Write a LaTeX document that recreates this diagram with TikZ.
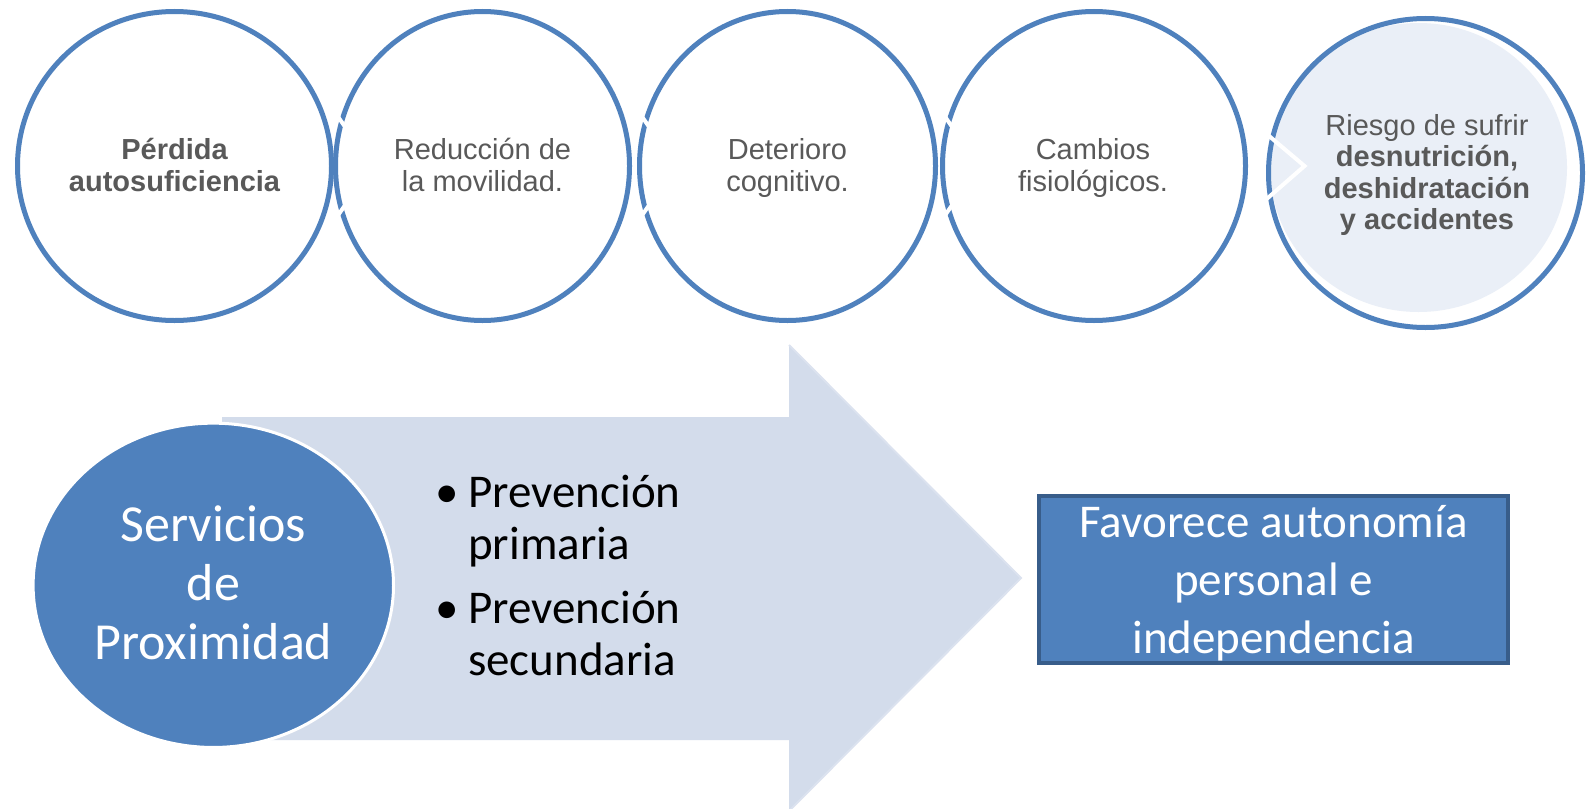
\documentclass[tikz,border=0pt]{standalone}
\usepackage{fontspec}
\setmainfont{Liberation Sans}
\newfontfamily\carlito{Carlito}
\usetikzlibrary{shapes.geometric}
\definecolor{ablue}{RGB}{79,129,189}
\definecolor{dblue}{RGB}{56,93,138}
\definecolor{tgray}{RGB}{89,89,89}
\definecolor{pale}{RGB}{234,239,247}
\definecolor{arrowfill}{RGB}{211,220,235}
\definecolor{arrowedge}{RGB}{219,226,239}
\tikzset{
  ring/.style={ellipse, draw=ablue, line width=5pt, inner sep=0pt, outer sep=0pt, minimum height=309pt},
  toptext/.style={anchor=base, inner sep=0pt, text=tgray, font=\fontsize{29}{31.5}\selectfont},
  chev/.style={draw=white, line width=4pt},
  whitetext/.style={inner sep=0pt, text=white},
}
\begin{document}
\begin{tikzpicture}[x=1pt,y=-1pt]
\useasboundingbox (0,0) rectangle (1589,808);
\fill[white] (0,0) rectangle (1589,808);

% top row of circles
\node[ring, minimum width=314pt] (c1) at (174.5,166) {};
\node[ring, minimum width=294pt] (c2) at (482.5,166) {};
\node[ring, minimum width=296pt] (c3) at (787.5,166) {};
\node[ring, minimum width=303pt] (c4) at (1094,166) {};
\node[ellipse, fill=pale, inner sep=0pt, minimum width=297pt, minimum height=289pt] (c5fill) at (1418.5,167.5) {};
\node[ring, minimum width=314pt] (c5) at (1425.5,173) {};

% white chevrons
\draw[chev] ([shift={(2,-50)}]c2.west) -- ([shift={(37,0)}]c2.west) -- ([shift={(2,50)}]c2.west);
\draw[chev] ([shift={(2,-50)}]c3.west) -- ([shift={(37,0)}]c3.west) -- ([shift={(2,50)}]c3.west);
\draw[chev] ([shift={(2,-50)}]c4.west) -- ([shift={(37,0)}]c4.west) -- ([shift={(2,50)}]c4.west);
\draw[chev] ([shift={(-3,-40)}]c5.west) -- ([shift={(36,-7)}]c5.west) -- ([shift={(-3,27)}]c5.west);

% texts of circles
\node[toptext] (t1) at (174.5,159.5) {\begin{tabular}[t]{@{}c@{}}\bfseries Pérdida\\\bfseries autosuficiencia\end{tabular}};
\node[toptext] (t2) at (482.5,159.5) {\begin{tabular}[t]{@{}c@{}}Reducción de\\la movilidad.\end{tabular}};
\node[toptext] (t3) at (787.5,159.5) {\begin{tabular}[t]{@{}c@{}}Deterioro\\cognitivo.\end{tabular}};
\node[toptext] (t4) at (1093,159.5) {\begin{tabular}[t]{@{}c@{}}Cambios\\fisiológicos.\end{tabular}};
\node[toptext] (t5) at (1427,135) {\begin{tabular}[t]{@{}c@{}}Riesgo de sufrir\\\bfseries desnutrición,\\\bfseries deshidratación\\\bfseries y accidentes\end{tabular}};

% big arrow
\fill[arrowfill] (222,417) -- (789,417) -- (789,345) -- (1021,578) -- (789,811) -- (789,740) -- (222,740) -- cycle;
\draw[arrowedge, line width=2pt] (789,345) -- (1021,578) -- (789,811);

% Servicios de Proximidad
\node[ellipse, fill=ablue, draw=white, line width=3pt, inner sep=0pt, minimum width=360.4pt, minimum height=324.3pt] (sp) at (213.3,585.3) {};
\node[whitetext, anchor=base, font=\carlito\fontsize{52}{59}\selectfont] (spt) at (213.3,541) {\begin{tabular}[t]{@{}c@{}}Servicios\\de\\Proximidad\end{tabular}};

% bullets
\node[anchor=base west, inner sep=0pt, font=\carlito\fontsize{47}{52}\selectfont] (prev) at (435,507) {\begin{tabular}[t]{@{}l@{}}\makebox[33pt][l]{•}Prevención\\ \hspace*{33pt}primaria\\[12pt]\makebox[33pt][l]{•}Prevención\\ \hspace*{33pt}secundaria\end{tabular}};

% result box
\node[draw=dblue, fill=ablue, line width=4pt, inner sep=0pt, minimum width=469pt, minimum height=167pt] (fav) at (1273.5,579.5) {};
\node[whitetext, anchor=base, font=\carlito\fontsize{47}{58}\selectfont] (favt) at (1273.5,537) {\begin{tabular}[t]{@{}c@{}}Favorece autonomía\\personal e\\independencia\end{tabular}};
\end{tikzpicture}
\end{document}
